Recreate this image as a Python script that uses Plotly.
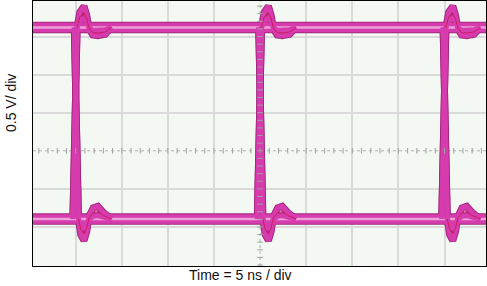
import plotly.graph_objects as go

# ---------------- data ----------------
transition_times_ns = [5.0, 25.0, 45.0]
high_level_v = 1.62
low_level_v = -0.895

# falling edge + ringing, offsets (ns) relative to the transition time
fall_dt_ns = [-0.15, 0.05, 0.3, 0.55, 0.9, 1.2, 1.45, 1.9, 2.4, 3.0, 3.9]
fall_v_strong = [1.62, 0.4, -0.895, -1.1, -1.18, -1.06, -0.86, -0.75, -0.73, -0.81, -0.895]
fall_v_weak = [1.62, 0.3, -0.895, -0.97, -1.01, -0.97, -0.90, -0.86, -0.85, -0.87, -0.895]
fall_v_mid = [1.62, 0.35, -0.895, -1.03, -1.09, -1.01, -0.88, -0.81, -0.80, -0.85, -0.895]

# rising edge + ringing
rise_dt_ns = [-0.3, -0.05, 0.15, 0.45, 0.9, 1.2, 1.45, 1.85, 2.4, 3.2, 3.9]
rise_v_strong = [-0.895, 0.5, 1.62, 1.82, 1.90, 1.78, 1.60, 1.52, 1.51, 1.53, 1.62]
rise_v_weak = [-0.895, 0.4, 1.62, 1.70, 1.74, 1.70, 1.62, 1.58, 1.58, 1.59, 1.62]
rise_v_mid = [-0.895, 0.45, 1.62, 1.76, 1.81, 1.73, 1.61, 1.55, 1.545, 1.56, 1.62]

x_range_ns = [0.37, 49.5]
y_range_v = [-1.513, 1.967]
grid_x_ns = [5, 10, 15, 20, 30, 35, 40, 45]
grid_y_v = [-1.0, -0.5, 0.5, 1.0, 1.5]
center_x_ns = 25
center_y_v = 0.0
minor_x_ns = [i for i in range(1, 50)]
minor_y_v = [round(-1.5 + 0.1 * i, 2) for i in range(35)]

x_label = "Time = 5 ns / div"
y_label = "0.5 V/ div"

# ---------------- styles ----------------
MAGENTA = "#d63cae"
DARK = "#a3287e"
LIGHT = "#eaa2d8"
RED = "#d01a5e"


def edge_path(start_high, rise_v, fall_v, skip=0):
    xs, ys = [], []
    high = start_high
    for t0 in transition_times_ns:
        if high:
            dts, vs = fall_dt_ns, fall_v
        else:
            dts, vs = rise_dt_ns, rise_v
        high = not high
        xs += [t0 + d for d in dts[skip:]] + [None]
        ys += list(vs[skip:]) + [None]
    return xs, ys


fig = go.Figure()

def add_line(xs, ys, color, width):
    fig.add_trace(go.Scatter(x=xs, y=ys, mode="lines",
                             line=dict(color=color, width=width),
                             hoverinfo="skip", showlegend=False,
                             connectgaps=False))

levels = [high_level_v, low_level_v]
variants = [(rise_v_strong, fall_v_strong), (rise_v_weak, fall_v_weak)]

# dark under-layers
for lv in levels:
    add_line(x_range_ns, [lv, lv], DARK, 11.5)
for start in (True, False):
    for rv, fv in variants:
        xs, ys = edge_path(start, rv, fv)
        add_line(xs, ys, DARK, 7)
# level bands
for lv in levels:
    add_line(x_range_ns, [lv, lv], MAGENTA, 9.5)
for lv in levels:
    add_line(x_range_ns, [lv, lv], LIGHT, 2.5)
# transitions
for start in (True, False):
    for rv, fv in variants:
        xs, ys = edge_path(start, rv, fv)
        add_line(xs, ys, MAGENTA, 5)
# thin red inner lines of the ringing
for start in (True, False):
    xs, ys = edge_path(start, rise_v_mid, fall_v_mid, skip=2)
    add_line(xs, ys, RED, 1)

# center line ticks
fig.add_trace(go.Scatter(x=minor_x_ns, y=[center_y_v] * len(minor_x_ns), mode="markers",
                         marker=dict(symbol="line-ns", size=4, line=dict(color="#a0a0a0", width=1)),
                         hoverinfo="skip", showlegend=False))
fig.add_trace(go.Scatter(x=[center_x_ns] * len(minor_y_v), y=minor_y_v, mode="markers",
                         marker=dict(symbol="line-ew", size=4, line=dict(color="#a0a0a0", width=1)),
                         hoverinfo="skip", showlegend=False))

fig.add_shape(type="line", xref="x", yref="paper", x0=center_x_ns, x1=center_x_ns, y0=0, y1=1,
              line=dict(color="#b0b0b0", width=1, dash="dot"), layer="below")
fig.add_shape(type="line", xref="paper", yref="y", x0=0, x1=1, y0=center_y_v, y1=center_y_v,
              line=dict(color="#b0b0b0", width=1, dash="dot"), layer="below")

axis_common = dict(showticklabels=False, ticks="", showgrid=True, gridcolor="#dadada",
                   gridwidth=2, zeroline=False, showline=True, linecolor="black",
                   linewidth=1, mirror=True, fixedrange=True)

fig.update_layout(
    width=487, height=286,
    margin=dict(l=33, r=1, t=1, b=20),
    paper_bgcolor="white",
    plot_bgcolor="#f3f8f3",
    xaxis=dict(range=x_range_ns, tickmode="array", tickvals=grid_x_ns, **axis_common),
    yaxis=dict(range=y_range_v, tickmode="array", tickvals=grid_y_v, **axis_common),
    font=dict(family="Liberation Sans, Arial, sans-serif", size=14, color="#111"),
    annotations=[
        dict(text=x_label, xref="paper", yref="paper", x=(240 - 33) / 453, y=-9 / 265,
             xanchor="center", yanchor="middle", showarrow=False,
             font=dict(size=14)),
        dict(text=y_label, xref="paper", yref="paper", x=-22 / 453, y=(266 - 103) / 265,
             xanchor="center", yanchor="middle", showarrow=False, textangle=-90,
             font=dict(size=14)),
    ],
)

fig.write_html("out.html")
